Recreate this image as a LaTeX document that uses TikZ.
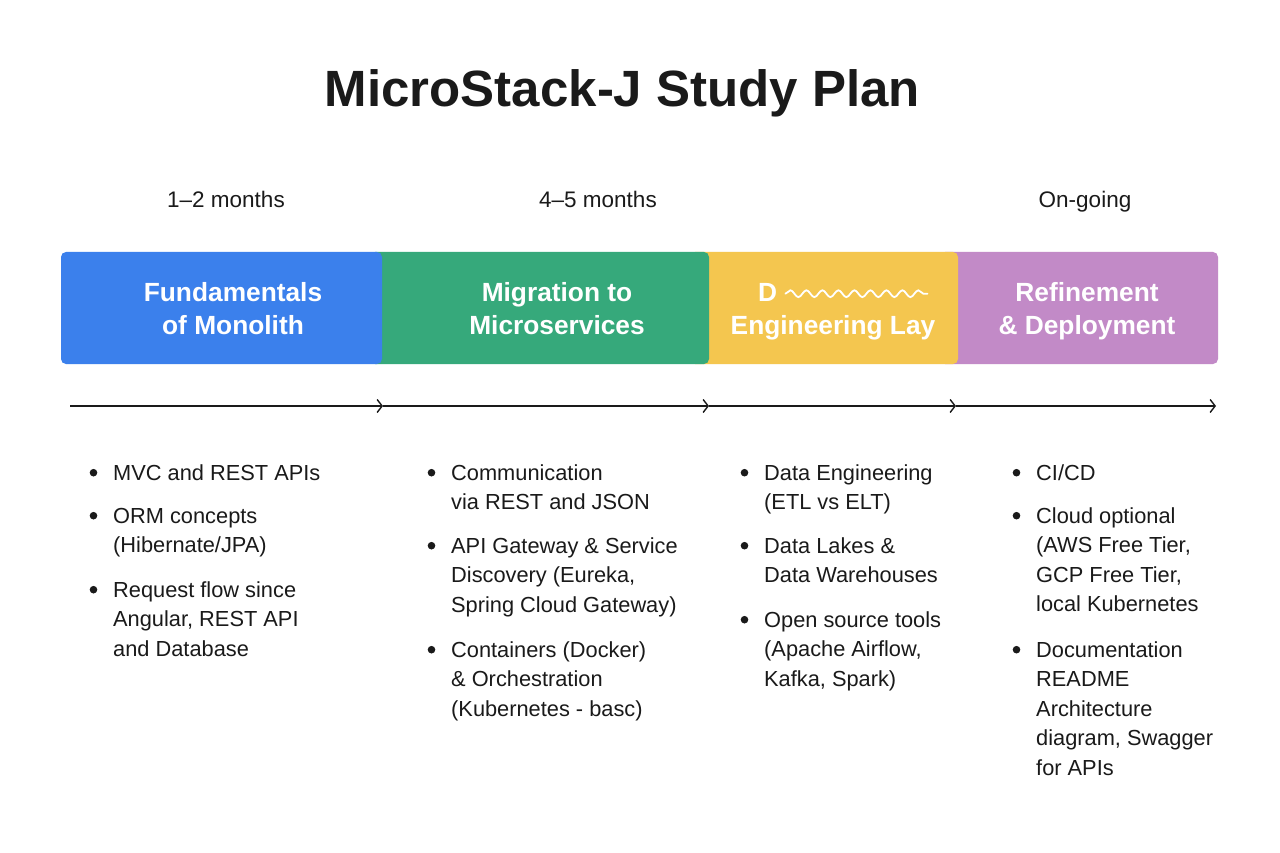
\documentclass[tikz,border=0pt]{standalone}
\usepackage{fontspec}
\setmainfont{Liberation Sans}
\usetikzlibrary{arrows.meta,decorations.pathmorphing}
\definecolor{ink}{HTML}{1A1A1A}
\definecolor{cblue}{HTML}{3B80EC}
\definecolor{cgreen}{HTML}{36A97B}
\definecolor{cyellow}{HTML}{F4C64F}
\definecolor{cpurple}{HTML}{C28AC7}
\newcommand\bitem[4]{%
  \node[itemtext] (#1) at (#2,#3) {\begin{tabular}[t]{@{}l@{}}#4\end{tabular}};
  \fill[ink] ([xshift=-19.5pt,yshift=7.3pt]#1.base west) circle (3.8pt);}
\begin{document}
\begin{tikzpicture}[x=1pt,y=-1pt,
  itemtext/.style={anchor=base west,inner sep=0pt,text=ink,font=\fontsize{21.8}{29.6}\selectfont},
  timetext/.style={anchor=base,inner sep=0pt,text=ink,font=\fontsize{22.5}{26}\selectfont},
  phasebox/.style={rounded corners=5pt},
  phasetext/.style={anchor=base,inner sep=0pt,text=white,font=\fontsize{26.3}{32.6}\selectfont\bfseries},
  tl/.style={draw=ink,line width=1.4pt,-{Straight Barb[length=5pt,width=13pt,line width=1.4pt]}}]
\useasboundingbox (0,0) rectangle (1280,853);
\fill[white] (0,0) rectangle (1280,853);
% title
\node[anchor=base,inner sep=0pt,text=ink,font=\fontsize{51}{60}\selectfont\bfseries] (title) at (622.5,106.7) {MicroStack-J Study Plan};
% time labels
\node[timetext] (t1) at (226,208) {1--2 months};
\node[timetext] (t2) at (598,208) {4--5 months};
\node[timetext] (t3) at (1085,208) {On-going};
% phase boxes (drawn right to left so each overlaps the next)
\fill[cpurple,phasebox] (940,252) rectangle (1218,364);
\fill[cyellow,phasebox] (690,252) rectangle (958,364);
\fill[cgreen,phasebox] (370,252) rectangle (709,364);
\fill[cblue,phasebox] (61,252) rectangle (382,364);
\node[phasetext] (p1) at (233,301.7) {\begin{tabular}[t]{@{}c@{}}Fundamentals\\of Monolith\end{tabular}};
\node[phasetext] (p2) at (557,301.7) {\begin{tabular}[t]{@{}c@{}}Migration to\\Microservices\end{tabular}};
\node[phasetext,anchor=base west] (p3a) at (758,301.7) {D};
\draw[white,line width=1.8pt,line cap=round,decorate,decoration={snake,amplitude=3.4pt,segment length=16pt}] (p3a.base east) ++(8,-8) -- ++(142,0);
\node[phasetext] (p3) at (833,334.3) {Engineering Lay};
\node[phasetext] (p4) at (1087,301.7) {\begin{tabular}[t]{@{}c@{}}Refinement\\\& Deployment\end{tabular}};
% timeline
\coordinate (a0) at (70,406);
\coordinate (a1) at (383,406);
\coordinate (a2) at (709,406);
\coordinate (a3) at (956,406);
\coordinate (a4) at (1216,406);
\draw[tl] (a0) -- (a1);
\draw[tl] (a1) -- (a2);
\draw[tl] (a2) -- (a3);
\draw[tl] (a3) -- (a4);
% column 1
\bitem{c1a}{113}{480}{MVC and REST APIs}
\bitem{c1b}{113}{523}{ORM concepts\\(Hibernate/JPA)}
\bitem{c1c}{113}{597}{Request flow since\\Angular, REST API\\and Database}
% column 2
\bitem{c2a}{451}{480}{Communication\\via REST and JSON}
\bitem{c2b}{451}{553}{API Gateway \& Service\\Discovery (Eureka,\\Spring Cloud Gateway)}
\bitem{c2c}{451}{657}{Containers (Docker)\\\& Orchestration\\(Kubernetes - basc)}
% column 3
\bitem{c3a}{764}{480}{Data Engineering\\(ETL vs ELT)}
\bitem{c3b}{764}{553}{Data Lakes \&\\Data Warehouses}
\bitem{c3c}{764}{627}{Open source tools\\(Apache Airflow,\\Kafka, Spark)}
% column 4
\bitem{c4a}{1036}{480}{CI/CD}
\bitem{c4b}{1036}{523}{Cloud optional\\(AWS Free Tier,\\GCP Free Tier,\\local Kubernetes}
\bitem{c4c}{1036}{657}{Documentation\\README\\Architecture\\diagram, Swagger\\for APIs}
\end{tikzpicture}
\end{document}
